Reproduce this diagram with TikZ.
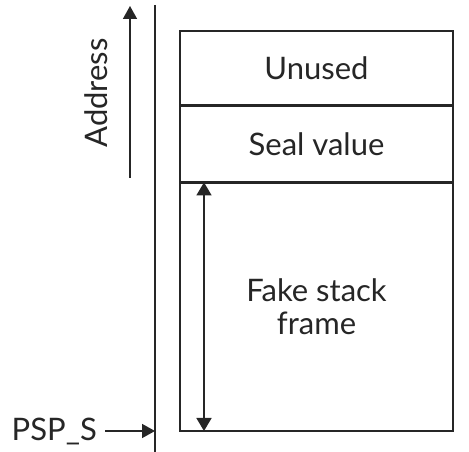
\documentclass[tikz,border=0pt]{standalone}
\usepackage{fontspec}
\setmainfont{Lato}
\usepackage{tikz}
\usetikzlibrary{arrows.meta}
\colorlet{ink}{black!85}
\tikzstyle{cell}=[draw=ink,line width=1.6pt,minimum width=273pt,inner sep=0pt,font=\fontsize{31}{37}\selectfont,text=ink]
\tikzstyle{lbl}=[font=\fontsize{31}{37}\selectfont,text=ink,inner sep=0pt]
\tikzstyle{ptr}=[line width=1.6pt,draw=ink,-{Triangle[length=13pt,width=14pt]}]
\tikzstyle{span}=[line width=1.6pt,draw=ink,{Triangle[length=13pt,width=15pt]}-{Triangle[length=13pt,width=15pt]}]

\begin{document}
\begin{tikzpicture}[x=1pt,y=1pt]
	\useasboundingbox (0,0) rectangle (469,452);
	% stack cells
	\node[cell,minimum height=74pt]  (unused) at (316.5,384) {Unused};
	\node[cell,minimum height=75pt,anchor=north] (seal) at (unused.south) {Seal value};
	\node[cell,minimum height=248pt,anchor=north,align=center] (fake) at (seal.south) {Fake stack\\[-4pt]frame};
	% address axis
	\coordinate (axtop) at (155,447);
	\coordinate (axbot) at (155,0);
	\draw[line width=1.6pt,draw=ink] (axtop) -- (axbot);
	\coordinate (adrlo) at (130,274);
	\coordinate (adrhi) at (130,446);
	\draw[ptr] (adrlo) -- (adrhi);
	\node[lbl,rotate=90] (address) at (96,359) {Address};
	% stack pointer
	\node[lbl,anchor=east] (psp) at (97,21) {PSP\_S};
	\draw[ptr] ([xshift=8pt]psp.east) -- (psp -| axbot);
	\draw[span] (fake.north -| 204,0) -- ([yshift=1pt]fake.south -| 204,0);
\end{tikzpicture}
\end{document}
